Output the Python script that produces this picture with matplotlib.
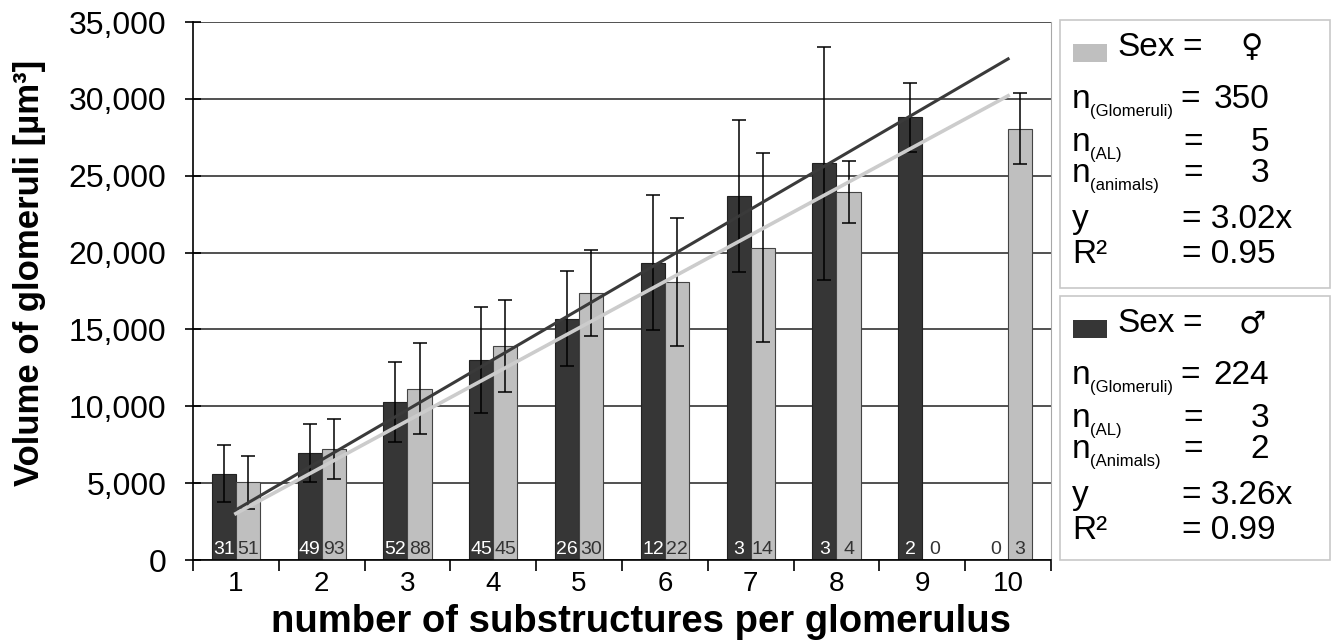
import numpy as np
import matplotlib
matplotlib.use("Agg")
import matplotlib.pyplot as plt
from matplotlib.patches import Rectangle
from matplotlib.ticker import FuncFormatter, FixedLocator

plt.rcParams['font.family'] = ['Liberation Sans', 'DejaVu Sans']

categories = [1, 2, 3, 4, 5, 6, 7, 8, 9, 10]
male_mean = [5600, 6950, 10250, 13000, 15700, 19350, 23700, 25800, 28800, 0]
male_sd = [1850, 1900, 2600, 3450, 3100, 4400, 4950, 7600, 2250, 0]
female_mean = [5050, 7250, 11150, 13900, 17350, 18100, 20300, 23950, 0, 28050]
female_sd = [1700, 1950, 2950, 3000, 2800, 4150, 6150, 2000, 0, 2300]
male_n = [31, 49, 52, 45, 26, 12, 3, 3, 2, 0]
female_n = [51, 93, 88, 45, 30, 22, 14, 4, 0, 3]
male_slope = 3260    # y = 3.26x (x1000)
female_slope = 3020  # y = 3.02x (x1000)

W, H = 1331, 642
fig = plt.figure(figsize=(W / 100, H / 100), dpi=100)
ax = fig.add_axes([193 / W, 1 - 560 / H, (1051 - 193) / W, (560 - 22) / H])

dark = '#363636'
light = '#bfbfbf'
x = np.array(categories, dtype=float)
bw = 0.28

ax.bar(x - bw / 2, male_mean, bw, color=dark, edgecolor='#222222', linewidth=0.8, zorder=2)
ax.bar(x + bw / 2, female_mean, bw, color=light, edgecolor='#444444', linewidth=0.8, zorder=2)

m_ok = np.array(male_mean) > 0
f_ok = np.array(female_mean) > 0
ax.errorbar((x - bw / 2)[m_ok], np.array(male_mean)[m_ok], yerr=np.array(male_sd)[m_ok],
            fmt='none', ecolor='black', elinewidth=1.1, capsize=5, capthick=1.1, zorder=3)
ax.errorbar((x + bw / 2)[f_ok], np.array(female_mean)[f_ok], yerr=np.array(female_sd)[f_ok],
            fmt='none', ecolor='black', elinewidth=1.1, capsize=5, capthick=1.1, zorder=3)

# linear trend lines through origin
xl = np.array([categories[0], categories[-1]], dtype=float)
ax.plot(xl, male_slope * xl, color='#3a3a3a', lw=2.2, zorder=4)
ax.plot(xl, female_slope * xl, color='#cccccc', lw=2.6, zorder=4)

# counts inside bars
for xi, n, v in zip(x, male_n, male_mean):
    ax.text(xi - bw / 2, 100, str(n), ha='center', va='bottom', fontsize=14,
            color='white' if v > 0 else '#333333', zorder=5)
for xi, n, v in zip(x, female_n, female_mean):
    ax.text(xi + bw / 2, 100, str(n), ha='center', va='bottom', fontsize=14,
            color='#333333', zorder=5)

ax.set_xlim(0.5, 10.5)
ax.set_ylim(0, 35000)
ax.set_yticks(np.arange(0, 35001, 5000))
ax.yaxis.set_major_formatter(FuncFormatter(lambda v, p: f'{int(v):,}'))
ax.set_xticks(categories)
ax.xaxis.set_minor_locator(FixedLocator(np.arange(0.5, 10.6, 1)))
ax.tick_params(axis='x', which='major', length=0, labelsize=20, pad=8)
ax.tick_params(axis='x', which='minor', length=8, width=1.2, direction='out')
ax.tick_params(axis='y', which='major', length=12, width=1.2, direction='inout', labelsize=23, pad=13)
ax.grid(axis='y', color='#222222', lw=1.1, zorder=0)
ax.set_axisbelow(True)

ax.spines['top'].set_visible(False)
ax.spines['right'].set_color('#a8a8a8')
ax.spines['left'].set_linewidth(1.2)
ax.spines['bottom'].set_linewidth(1.2)

ax.set_xlabel('number of substructures per glomerulus', fontsize=27.5, fontweight='bold')
ax.set_ylabel('Volume of glomeruli [µm³]', fontsize=25, fontweight='bold')
ax.xaxis.set_label_coords(0.522, -0.082, transform=ax.transAxes)
ax.yaxis.set_label_coords(-0.171, 0.533, transform=ax.transAxes)


def px(xp, yp):
    return xp / W, 1 - yp / H


def legend_box(top, height, color, symbol, rows, y_eq, r2):
    fig.patches.append(Rectangle(px(1060, top + height), 270 / W, height / H,
                                 transform=fig.transFigure, fill=False,
                                 edgecolor='#c8c8c8', lw=1.2))
    fig.patches.append(Rectangle(px(1073, top + 42), 34 / W, 18 / H,
                                 transform=fig.transFigure, facecolor=color,
                                 edgecolor='none'))
    fig.text(*px(1117, top + 36), 'Sex', fontsize=24, va='baseline')
    fig.text(*px(1182, top + 36), '=', fontsize=24, va='baseline')
    fig.text(*px(1252, top + 36), symbol, fontsize=22, va='baseline', ha='center',
             family=['DejaVu Sans'])
    offsets = [88, 131, 162]
    for (sub, val, eq_x), off in zip(rows, offsets):
        fig.text(*px(1072, top + off), 'n', fontsize=24, va='baseline')
        fig.text(*px(1090, top + off + 8), sub, fontsize=12, va='baseline')
        fig.text(*px(eq_x, top + off), '=', fontsize=24, va='baseline')
        fig.text(*px(1269, top + off), val, fontsize=24, va='baseline', ha='right')
    fig.text(*px(1072, top + 208), 'y', fontsize=24, va='baseline')
    fig.text(*px(1182, top + 208), '= ' + y_eq, fontsize=24, va='baseline')
    fig.text(*px(1072, top + 243), 'R²', fontsize=24, va='baseline')
    fig.text(*px(1182, top + 243), '= ' + r2, fontsize=24, va='baseline')


legend_box(20, 268, light, '♀',
           [('(Glomeruli)', '350', 1180), ('(AL)', '5', 1183), ('(animals)', '3', 1183)],
           '3.02x', '0.95')
legend_box(296, 264, dark, '♂',
           [('(Glomeruli)', '224', 1180), ('(AL)', '3', 1183), ('(Animals)', '2', 1183)],
           '3.26x', '0.99')

fig.savefig('out.png', dpi=100)
